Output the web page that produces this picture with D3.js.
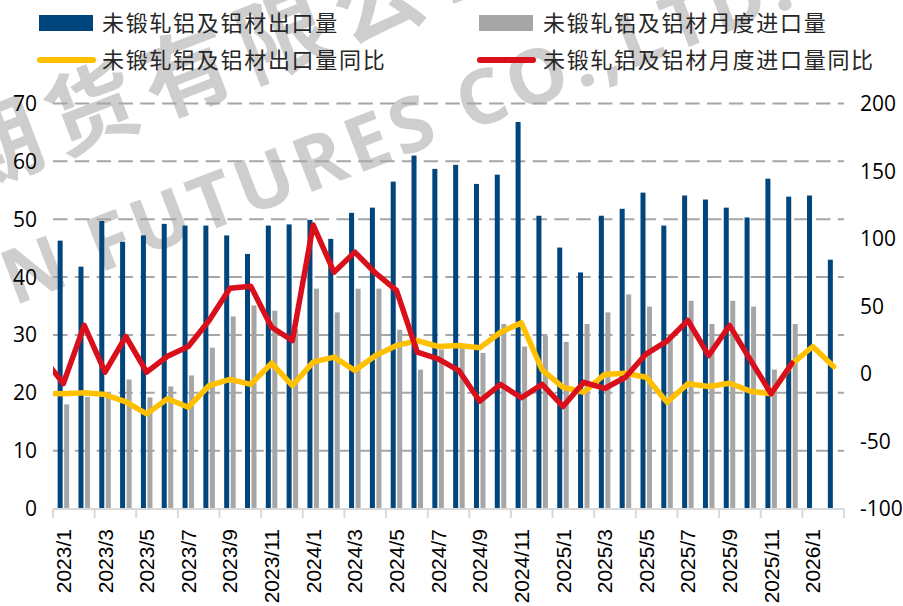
<html>
<head>
<meta charset="utf-8">
<script src="https://d3js.org/d3.v7.min.js"></script>
<style>
body { margin: 0; background: #fff; }
</style>
</head>
<body>
<script>
var width = 903;
var height = 606;
var plot = {left: 53, right: 844, top: 103.5, bottom: 508.5};

// months shown on the x axis
var months = ["2023/1","2023/2","2023/3","2023/4","2023/5","2023/6","2023/7","2023/8","2023/9","2023/10","2023/11","2023/12",
  "2024/1","2024/2","2024/3","2024/4","2024/5","2024/6","2024/7","2024/8","2024/9","2024/10","2024/11","2024/12",
  "2025/1","2025/2","2025/3","2025/4","2025/5","2025/6","2025/7","2025/8","2025/9","2025/10","2025/11","2025/12",
  "2026/1","2026/2"];

// 未锻轧铝及铝材出口量 (left axis)
var exportVol = [46.3, 41.8, 49.7, 46.1, 47.2, 49.2, 48.9, 48.9, 47.2, 44.0, 48.9, 49.1,
  49.9, 46.6, 51.1, 52.0, 56.5, 61.0, 58.7, 59.4, 56.1, 57.7, 66.8, 50.6,
  45.1, 40.8, 50.6, 51.8, 54.6, 48.9, 54.1, 53.4, 52.0, 50.3, 57.0, 53.9,
  54.1, 43.0];
// 未锻轧铝及铝材月度进口量 (left axis)
var importVol = [18.0, 19.3, 19.8, 22.3, 19.2, 21.1, 23.0, 27.8, 33.2, 35.1, 34.2, 31.0,
  38.0, 33.9, 38.0, 38.0, 30.9, 24.0, 27.5, 28.0, 26.9, 31.9, 28.0, 29.9,
  28.8, 31.9, 33.9, 37.0, 34.9, 29.4, 35.9, 31.9, 35.9, 34.9, 24.0, 31.9,
  null, null];
// 出口量同比 (right axis), the first value is the month before 2023/1 (cut by the plot edge)
var exportYoy = [-14.8,
  -15.0, -14.3, -15.6, -21.0, -29.9, -18.7, -25.0, -8.9, -4.4, -8.1, 7.6, -8.9,
  8.4, 12.1, 2.2, 13.3, 20.7, 24.4, 20.0, 20.7, 19.0, 30.6, 37.5, 2.7,
  -10.2, -13.9, -0.7, 0.2, -2.8, -21.3, -7.6, -9.6, -7.2, -13.1, -15.0, 7.2,
  20.0, 5.2];
// 月度进口量同比 (right axis), same layout
var importYoy = [11.9,
  -7.4, 35.6, 1.0, 27.4, 1.0, 12.8, 20.0, 39.3, 63.2, 64.7, 34.3, 24.4,
  110.0, 75.0, 89.9, 74.3, 61.5, 15.8, 10.9, 2.2, -20.5, -8.1, -18.0, -8.1,
  -24.4, -6.5, -11.1, -2.8, 14.6, 24.0, 39.3, 13.3, 35.6, 10.1, -15.0, 7.6,
  null, null];

var leftTicks = [0, 10, 20, 30, 40, 50, 60, 70];
var rightTicks = [-100, -50, 0, 50, 100, 150, 200];

var legendNames = ["未锻轧铝及铝材出口量", "未锻轧铝及铝材月度进口量", "未锻轧铝及铝材出口量同比", "未锻轧铝及铝材月度进口量同比"];

var blue = "#00457c", gray = "#a6a6a6", yellow = "#ffc000", red = "#d9101c";

var x = d3.scaleBand().domain(months).range([plot.left, plot.right]).padding(0);
var x1 = d3.scaleBand().domain(["exp", "imp"]).range([0, x.bandwidth()])
    .paddingInner(0.23).paddingOuter(0.715);
var yL = d3.scaleLinear().domain([0, 70]).range([plot.bottom, plot.top]);
var yR = d3.scaleLinear().domain([-100, 200]).range([plot.bottom, plot.top]);

var svg = d3.select("body").append("svg")
    .attr("width", width)
    .attr("height", height);

svg.append("defs").append("clipPath").attr("id", "plotclip")
  .append("rect")
    .attr("x", plot.left).attr("y", 0)
    .attr("width", plot.right - plot.left).attr("height", height);

// watermark (behind the marks, like a faint stamp)
var wm = svg.append("g")
    .attr("fill", "#8c8c8c")
    .attr("opacity", 0.42)
    .style("pointer-events", "none");
wm.append("text")
    .attr("transform", "translate(-34,192) rotate(-21)")
    .style("font-family", "'Noto Sans CJK SC', sans-serif")
    .style("font-size", "90px")
    .style("font-weight", "bold")
    .style("letter-spacing", "12px")
    .text("期货有限公司");
wm.append("text")
    .attr("transform", "translate(14,306) rotate(-21)")
    .style("font-family", "'Open Sans', sans-serif")
    .style("font-size", "76px")
    .style("font-weight", "bold")
    .style("letter-spacing", "5px")
    .text("N FUTURES CO.,LTD.");

// gridlines
svg.append("g")
  .selectAll("line")
  .data(leftTicks.slice(1))
  .enter().append("line")
    .attr("x1", plot.left).attr("x2", plot.right)
    .attr("y1", function(d) { return yL(d); })
    .attr("y2", function(d) { return yL(d); })
    .attr("stroke", gray)
    .attr("stroke-width", 2)
    .attr("stroke-dasharray", "14.5,7.3");

// bars
svg.append("g").attr("fill", blue)
  .selectAll("rect")
  .data(exportVol)
  .enter().append("rect")
    .attr("x", function(d, i) { return x(months[i]) + x1("exp"); })
    .attr("y", function(d) { return yL(d); })
    .attr("width", x1.bandwidth())
    .attr("height", function(d) { return yL(0) - yL(d); });

svg.append("g").attr("fill", gray)
  .selectAll("rect")
  .data(importVol.filter(function(d) { return d != null; }))
  .enter().append("rect")
    .attr("x", function(d, i) { return x(months[i]) + x1("imp"); })
    .attr("y", function(d) { return yL(d); })
    .attr("width", x1.bandwidth())
    .attr("height", function(d) { return yL(0) - yL(d); });

// x axis line and ticks
var axisY = plot.bottom + 0.5;
svg.append("line")
    .attr("x1", plot.left).attr("x2", plot.right)
    .attr("y1", axisY).attr("y2", axisY)
    .attr("stroke", "#d9d9d9").attr("stroke-width", 2);
var tickPos = months.filter(function(d, i) { return i % 2 == 0; })
    .map(function(d) { return x(d); });
tickPos.push(plot.right);
svg.append("g")
  .selectAll("line")
  .data(tickPos)
  .enter().append("line")
    .attr("x1", function(d) { return d; })
    .attr("x2", function(d) { return d; })
    .attr("y1", axisY).attr("y2", axisY + 9)
    .attr("stroke", "#d9d9d9").attr("stroke-width", 2);

var xAxis = d3.axisBottom(x)
    .tickValues(months.filter(function(d, i) { return i % 2 == 0; }))
    .tickSize(0);
var gx = svg.append("g")
    .attr("transform", "translate(0," + axisY + ")")
    .call(xAxis);
gx.select(".domain").remove();
gx.selectAll("text")
    .attr("transform", "rotate(-90)")
    .attr("x", -20)
    .attr("y", 0)
    .attr("dy", "0.36em")
    .style("text-anchor", "end")
    .style("font-family", "'Liberation Sans', Arial, sans-serif")
    .style("font-size", "21px")
    .attr("fill", "#000");

// y axis labels
svg.append("g")
  .selectAll("text")
  .data(leftTicks)
  .enter().append("text")
    .attr("x", 37)
    .attr("y", function(d) { return yL(d); })
    .attr("dy", "0.36em")
    .attr("text-anchor", "end")
    .style("font-family", "'Open Sans', sans-serif")
    .style("font-size", "21px")
    .attr("fill", "#000")
    .text(function(d) { return d; });

svg.append("g")
  .selectAll("text")
  .data(rightTicks)
  .enter().append("text")
    .attr("x", 860)
    .attr("y", function(d) { return yR(d); })
    .attr("dy", "0.36em")
    .attr("text-anchor", "start")
    .style("font-family", "'Open Sans', sans-serif")
    .style("font-size", "21px")
    .attr("fill", "#000")
    .text(function(d) { return d; });

// yoy lines, index 0 is the month before the first category
function lineX(i) {
  return x(months[0]) + x.bandwidth() / 2 + (i - 1) * x.step();
}
var yoyLine = d3.line()
    .defined(function(d) { return d != null; })
    .x(function(d, i) { return lineX(i); })
    .y(function(d) { return yR(d); });

var lines = svg.append("g").attr("clip-path", "url(#plotclip)");
lines.append("path")
    .datum(exportYoy)
    .attr("d", yoyLine)
    .attr("fill", "none")
    .attr("stroke", yellow)
    .attr("stroke-width", 5.5)
    .attr("stroke-linejoin", "round")
    .attr("stroke-linecap", "round");
lines.append("path")
    .datum(importYoy)
    .attr("d", yoyLine)
    .attr("fill", "none")
    .attr("stroke", red)
    .attr("stroke-width", 5.5)
    .attr("stroke-linejoin", "round")
    .attr("stroke-linecap", "round");

// legend
var lg = svg.append("g")
    .style("font-family", "'Noto Sans CJK SC', sans-serif")
    .style("font-size", "22px")
    .style("letter-spacing", "1.7px")
    .attr("fill", "#262626");
lg.append("rect").attr("x", 39).attr("y", 15).attr("width", 54).attr("height", 16).attr("fill", blue);
lg.append("rect").attr("x", 479).attr("y", 15).attr("width", 54).attr("height", 16).attr("fill", gray);
lg.append("line").attr("x1", 40).attr("x2", 93).attr("y1", 60).attr("y2", 60)
    .attr("stroke", yellow).attr("stroke-width", 6).attr("stroke-linecap", "round");
lg.append("line").attr("x1", 480).attr("x2", 533).attr("y1", 60).attr("y2", 60)
    .attr("stroke", red).attr("stroke-width", 6).attr("stroke-linecap", "round");
lg.append("text").attr("x", 102).attr("y", 31).text(legendNames[0]);
lg.append("text").attr("x", 543).attr("y", 31).text(legendNames[1]);
lg.append("text").attr("x", 102).attr("y", 68).text(legendNames[2]);
lg.append("text").attr("x", 543).attr("y", 68).text(legendNames[3]);
</script>
</body>
</html>
